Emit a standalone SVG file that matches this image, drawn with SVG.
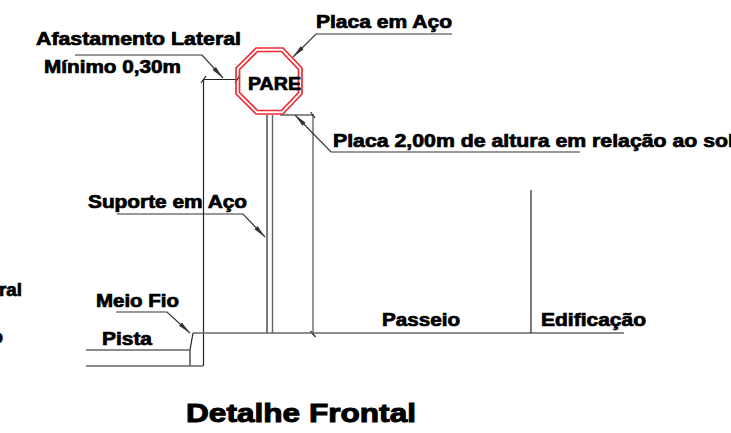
<svg xmlns="http://www.w3.org/2000/svg" width="731" height="433" viewBox="0 0 731 433">
<style>
text{font-family:"Liberation Sans",Arial,sans-serif;font-weight:bold;fill:#000;stroke:#000;stroke-width:.7px;font-size:17.500px}
.l{fill:none;stroke:#333;stroke-width:1.2}
.g{fill:none;stroke:#666;stroke-width:1.4}
.k{fill:none;stroke:#222;stroke-width:1.2}
.o{fill:none;stroke:#f02a30;stroke-width:1.700}
</style>
<defs>
<marker id="a" markerUnits="userSpaceOnUse" markerWidth="14" markerHeight="8" refX="13" refY="4" orient="auto"><path d="M0 1.800L13 4L0 6.200Z" fill="#333"/></marker>
</defs>
<rect width="731" height="433" fill="#fff"/>
<g id="connectors">
<path class="k" d="M203.500 366V79.500H238"/>
<path class="k" d="M201 83L206 76M235 83L240 75"/>
<path class="g" d="M280 115H313V335"/>
<path class="k" d="M310.500 112L315 118M310.500 331L315.500 337"/>
<path class="k" d="M267 115V333"/>
<path class="g" d="M272.500 115V333"/>
<path class="g" d="M193 333H624"/>
<path class="k" d="M531 190V333"/>
<path class="k" d="M190 366V350L193 333"/>
<path class="g" d="M86 350H190M86 366H203"/>
<path class="l" marker-end="url(#a)" d="M75 55H202L223 78"/>
<path class="l" marker-end="url(#a)" d="M452 34H316L293 57"/>
<path class="l" marker-end="url(#a)" d="M580 152H331L295 115"/>
<path class="l" marker-end="url(#a)" d="M117 214H243L265 237"/>
<path class="l" marker-end="url(#a)" d="M116 312H167L190 333"/>
</g>
<g id="placa">
<path class="o" d="M256 48H283L302 68V94L283 114H256L236 94V68Z"/>
<path class="o" d="M257.500 51.500H281.500L298.500 69.500V92.500L281.500 110.500H257.500L239.500 92.500V69.500Z"/>
<text x="248" y="90" textLength="53" lengthAdjust="spacingAndGlyphs">PARE</text>
</g>
<g id="labels">
<text x="36" y="45" textLength="205" lengthAdjust="spacingAndGlyphs">Afastamento Lateral</text>
<text x="44" y="73" textLength="137" lengthAdjust="spacingAndGlyphs">Mínimo 0,30m</text>
<text x="316" y="28" textLength="136" lengthAdjust="spacingAndGlyphs">Placa em Aço</text>
<text x="333" y="147" textLength="414" lengthAdjust="spacingAndGlyphs">Placa 2,00m de altura em relação ao solo</text>
<text x="88" y="208" textLength="159" lengthAdjust="spacingAndGlyphs">Suporte em Aço</text>
<text x="96" y="307" textLength="83" lengthAdjust="spacingAndGlyphs">Meio Fio</text>
<text x="102" y="345" textLength="50" lengthAdjust="spacingAndGlyphs">Pista</text>
<text x="382" y="326" textLength="78" lengthAdjust="spacingAndGlyphs">Passeio</text>
<text x="541" y="326" textLength="105" lengthAdjust="spacingAndGlyphs">Edificação</text>
<text x="-1" y="296" textLength="23" lengthAdjust="spacingAndGlyphs">ral</text>
<text x="-8" y="343" textLength="11" lengthAdjust="spacingAndGlyphs">o</text>
<text x="186" y="422" textLength="230" lengthAdjust="spacingAndGlyphs" style="font-size:26px;stroke-width:1px">Detalhe Frontal</text>
</g>
</svg>
